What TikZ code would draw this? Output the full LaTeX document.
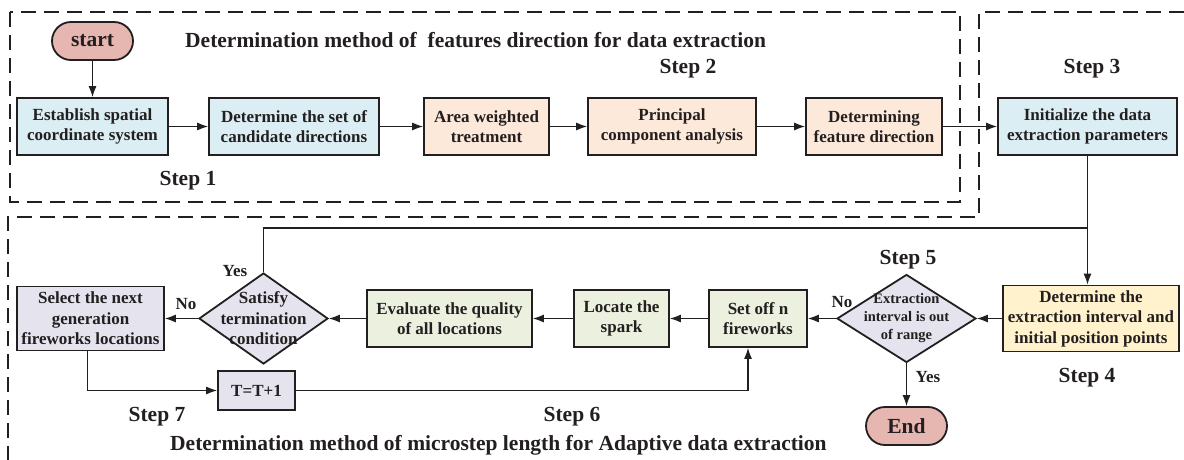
\documentclass[tikz,border=0pt]{standalone}
\usepackage{fontspec}
\setmainfont{Liberation Serif}
\usetikzlibrary{shapes.geometric,arrows.meta,calc}
\definecolor{ink}{RGB}{35,31,32}
\definecolor{cpink}{RGB}{230,182,177}
\definecolor{cblue}{RGB}{219,238,243}
\definecolor{cpeach}{RGB}{253,233,217}
\definecolor{clav}{RGB}{229,228,238}
\definecolor{cgreen}{RGB}{235,241,222}
\definecolor{cyel}{RGB}{255,242,204}
\newcommand\fmain{\fontsize{17}{20.5}\selectfont\bfseries}
\newcommand\fsmall{\fontsize{14.5}{18}\selectfont\bfseries}
\newcommand\fbig{\fontsize{21.5}{25}\selectfont\bfseries}
\tikzset{
  box/.style={draw=ink, line width=1.8pt, rectangle, inner sep=0pt, align=center, font=\fmain, text=ink},
  term/.style={draw=ink, line width=1.8pt, rectangle, rounded corners=19pt, fill=cpink, inner sep=0pt,
    minimum width=81pt, minimum height=38pt, font=\fbig, text=ink},
  dia/.style={draw=ink, line width=1.8pt, diamond, inner sep=0pt, fill=clav},
  dtext/.style={inner sep=0pt, align=center, text=ink},
  lab/.style={inner sep=0pt, font=\fmain, text=ink},
  stl/.style={inner sep=0pt, font=\fbig, text=ink},
  ttl/.style={inner sep=0pt, font=\fbig, text=ink, anchor=west},
  conn/.style={draw=ink, line width=1.2pt},
  frame/.style={draw=ink, line width=2pt, dash pattern=on 15pt off 8pt},
  r1/.style={box, minimum height=57pt},
}
\begin{document}
\begin{tikzpicture}[x=1pt, y=-1pt, >={Latex[length=11pt,width=8pt]}]
\useasboundingbox (0,0) rectangle (1184,460);
% dashed frames
\draw[frame] (10,12) rectangle (960,202);
\draw[frame] (1184,12) -- (979,12) -- (979,217) -- (8,217) -- (8,460);

% titles
\node[ttl] (t1) at (185,40) {Determination method of\ \ features direction for data extraction};
\node[ttl] (t2) at (170,445) {Determination method of microstep length for Adaptive data extraction};

% row 1
\node[term] (start) at (92.5,41) {start};
\node[r1, fill=cblue, minimum width=151pt] (est) at (92.5,126.5) {Establish spatial\\coordinate system};
\node[r1, fill=cblue, minimum width=170pt] (det) at (294,126.5) {Determine the set of\\candidate directions};
\node[r1, fill=cpeach, minimum width=125pt] (area) at (486.5,126.5) {Area weighted\\treatment};
\node[r1, fill=cpeach, minimum width=168pt] (pca) at (672,126.5) {Principal\\component analysis};
\node[r1, fill=cpeach, minimum width=136pt] (feat) at (874,126.5) {Determining\\feature direction};
\node[r1, fill=cblue, minimum width=179pt] (init) at (1087.5,126.5) {Initialize the data\\extraction parameters};

\node[stl] (s1) at (188,181) {Step 1};
\node[stl] (s2) at (688,69) {Step 2};
\node[stl] (s3) at (1092,69) {Step 3};

% row 2
\node[box, fill=clav, minimum width=147pt, minimum height=64pt] (select) at (90.5,318.5) {Select the next\\generation\\fireworks locations};
\node[dia, minimum width=129pt, minimum height=91pt] (sat) at (263.5,318.5) {};
\node[dtext, font=\fmain] (sattext) at (sat.center) {Satisfy\\termination\\condition};
\node[box, fill=cgreen, minimum width=165pt, minimum height=57pt] (eval) at (449.5,318.5) {Evaluate the quality\\of all locations};
\node[box, fill=cgreen, minimum width=95pt, minimum height=57pt] (locate) at (621.5,318.5) {Locate the\\spark};
\node[box, fill=cgreen, minimum width=98pt, minimum height=57pt] (setoff) at (758,318.5) {Set off n\\fireworks};
\node[dia, minimum width=139pt, minimum height=88pt] (extr) at (906.5,318.5) {};
\node[dtext, font=\fsmall] (extrtext) at (extr.center) {Extraction\\interval is out\\of range};
\node[box, fill=cyel, minimum width=176pt, minimum height=66pt] (detext) at (1091,318.5) {Determine the\\extraction interval and\\initial position points};
\node[term] (end) at (906.5,426) {End};
\node[box, fill=clav, minimum width=77pt, minimum height=39pt] (tt) at (256.5,390.5) {T=T+1};

\node[stl] (s5) at (908,260) {Step 5};
\node[stl] (s4) at (1087,378) {Step 4};
\node[stl] (s7) at (157,417) {Step 7};
\node[stl] (s6) at (572,417) {Step 6};

\node[lab] (yes1) at (235,271) {Yes};
\node[lab] (no1) at (186,304) {No};
\node[lab] (no2) at (842,302) {No};
\node[lab] (yes2) at (928,377) {Yes};

% connectors row 1
\draw[conn,->] (start.south) -- (est.north);
\draw[conn,->] (est.east) -- (det.west);
\draw[conn,->] (det.east) -- (area.west);
\draw[conn,->] (area.east) -- (pca.west);
\draw[conn,->] (pca.east) -- (feat.west);
\draw[conn,->] (feat.east) -- (init.west);

% down to row 2
\coordinate (j) at (1087.5,228);
\draw[conn,->] (init.south) -- (init.south |- detext.north);
\draw[conn] (sat.north) |- (j);

% row 2
\draw[conn,->] (detext.west) -- (extr.east);
\draw[conn,->] (extr.west) -- (setoff.east);
\draw[conn,->] (extr.south) -- (end.north);
\draw[conn,->] (setoff.west) -- (locate.east);
\draw[conn,->] (locate.west) -- (eval.east);
\draw[conn,->] (eval.west) -- (sat.east);
\draw[conn,->] (sat.west) -- (select.east);
\draw[conn,->] ([xshift=-3pt]select.south) |- (tt.west);
\draw[conn,->] (tt.east) -| ([xshift=-10pt]setoff.south);
\end{tikzpicture}
\end{document}
